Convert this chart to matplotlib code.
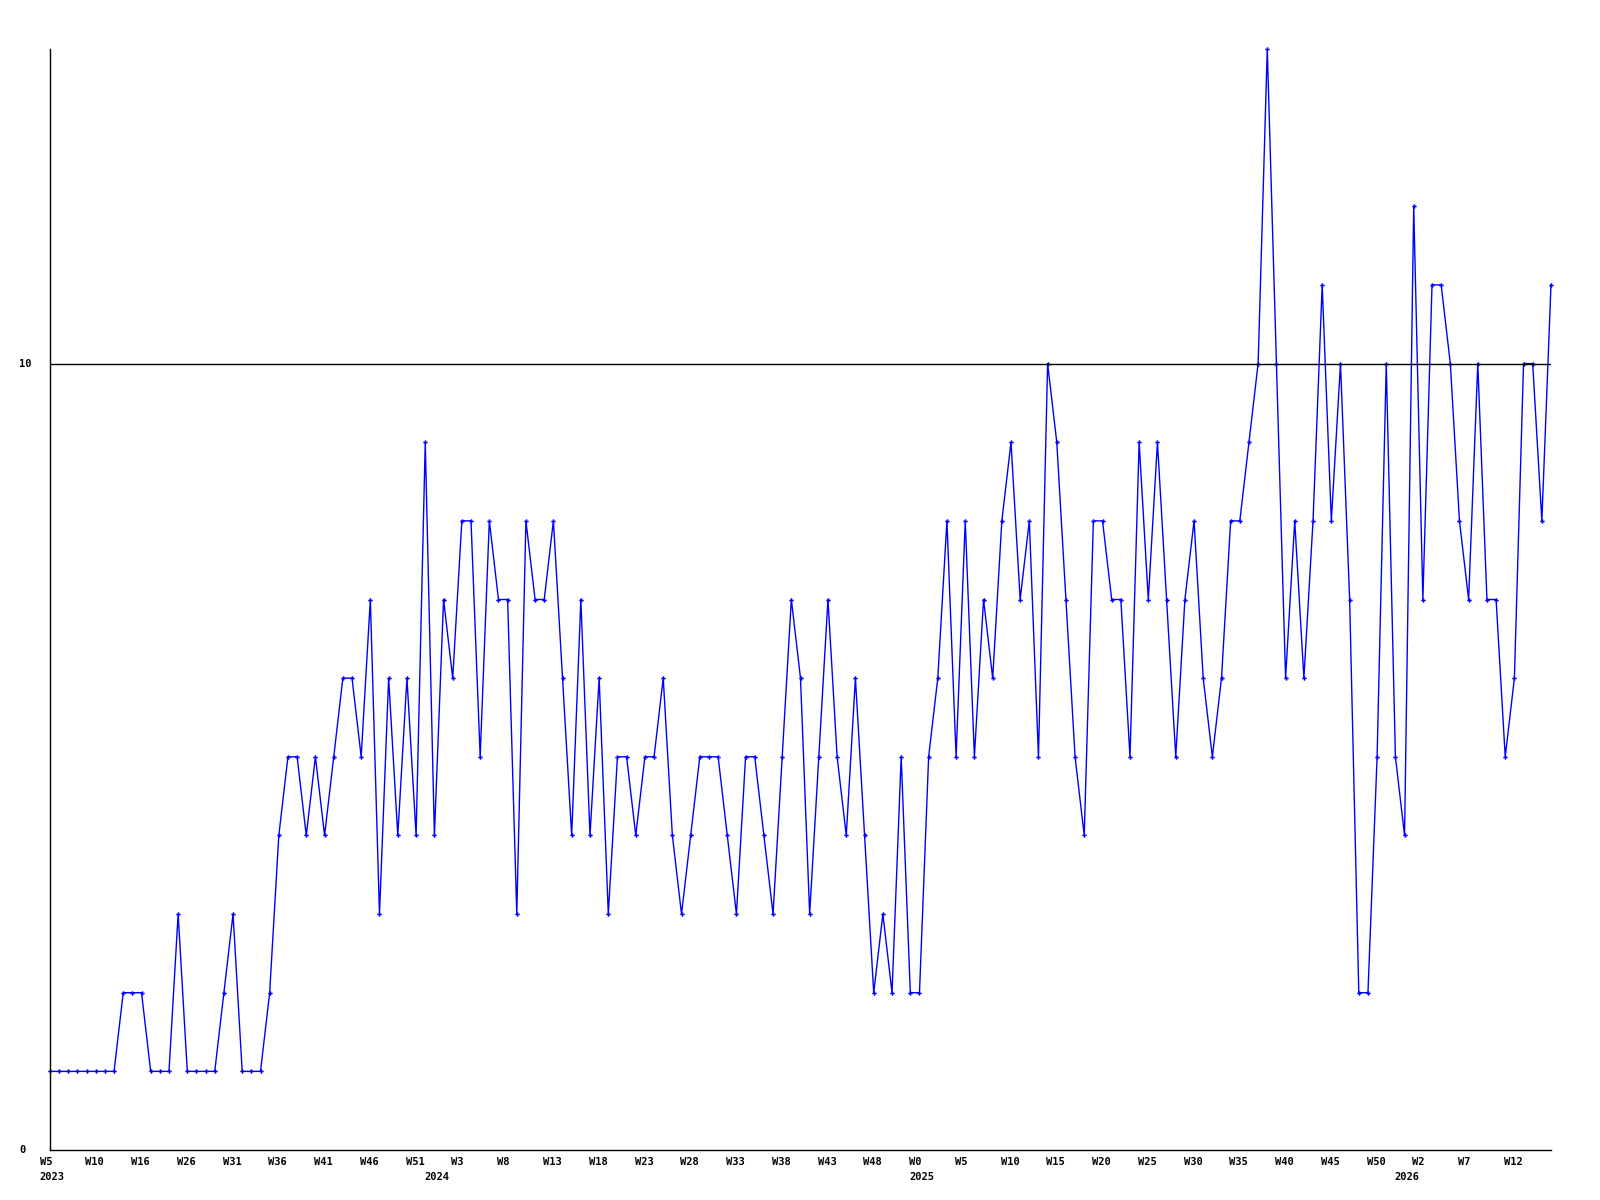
import matplotlib
matplotlib.use('agg')
import matplotlib.pyplot as plt
import matplotlib.transforms as mtransforms

# weekly counts, one point per week shown on the axis
values = [1, 1, 1, 1, 1, 1, 1, 1, 2, 2, 2, 1, 1, 1, 3, 1, 1, 1, 1, 2, 3, 1, 1, 1, 2,
          4, 5, 5, 4, 5, 4, 5, 6, 6, 5, 7, 3, 6, 4, 6, 4, 9,
          4, 7, 6, 8, 8, 5, 8, 7, 7, 3, 8, 7, 7, 8, 6, 4, 7, 4, 6, 3,
          5, 5, 4, 5, 5, 6, 4, 3, 4, 5, 5, 5, 4, 3, 5, 5, 4, 3, 5, 7, 6, 3,
          5, 7, 5, 4, 6, 4, 2, 3, 2, 5, 2, 2, 5, 6, 8, 5, 8, 5, 7, 6, 8,
          9, 7, 8, 5, 10, 9, 7, 5, 4, 8, 8, 7, 7, 5, 9, 7, 9, 7, 5, 7,
          8, 6, 5, 6, 8, 8, 9, 10, 14, 10, 6, 8, 6, 8, 11, 8, 10, 7, 2, 2,
          5, 10, 5, 4, 12, 7, 11, 11, 10, 8, 7, 10, 7, 7, 5, 6, 10, 10, 8, 11]

# a week label every 5th point
week_labels = ["W5", "W10", "W16", "W26", "W31", "W36", "W41", "W46", "W51",
               "W3", "W8", "W13", "W18", "W23", "W28", "W33", "W38", "W43", "W48",
               "W0", "W5", "W10", "W15", "W20", "W25", "W30", "W35", "W40", "W45",
               "W50", "W2", "W7", "W12"]
label_step = 5

years = ["2023", "2024", "2025", "2026"]
year_start = [0, 42, 95, 148]   # point index where each year begins

y_labels = [0, 10]
ref_line = 10

x = list(range(len(values)))

fig = plt.figure(figsize=(16, 12), dpi=100)
ax = fig.add_axes([50 / 1600, 1 - 1150 / 1200, 1501 / 1600, 1101 / 1200])

ax.plot(x, values, color='#0000ff', lw=1, marker='P', markersize=3.2,
        markeredgewidth=0, clip_on=False)
ax.axhline(ref_line, color='black', lw=1)

ax.set_xlim(0, len(values) - 1)
ax.set_ylim(0, 14)
ax.set_xticks([])
ax.set_yticks([])
for s in ['top', 'right']:
    ax.spines[s].set_visible(False)
for s in ['left', 'bottom']:
    ax.spines[s].set_linewidth(1)

font = dict(family='DejaVu Sans Mono', weight='bold', size=7.5)

# x labels sit left-aligned a little before their point
shift = mtransforms.ScaledTranslation(-10.4 / 100, 0, fig.dpi_scale_trans)
xtrans = mtransforms.blended_transform_factory(ax.transData, fig.transFigure) + shift
for i, lab in enumerate(week_labels):
    ax.text(i * label_step, 1 - 1162 / 1200, lab, transform=xtrans,
            ha='left', va='center', **font)
for yr, idx in zip(years, year_start):
    ax.text(idx, 1 - 1177.5 / 1200, yr, transform=xtrans,
            ha='left', va='center', **font)

ytrans = mtransforms.blended_transform_factory(fig.transFigure, ax.transData)
for v in y_labels:
    ax.text(19.5 / 1600, v, str(v), transform=ytrans, ha='left', va='center', **font)

fig.savefig("out.png", dpi=100)
